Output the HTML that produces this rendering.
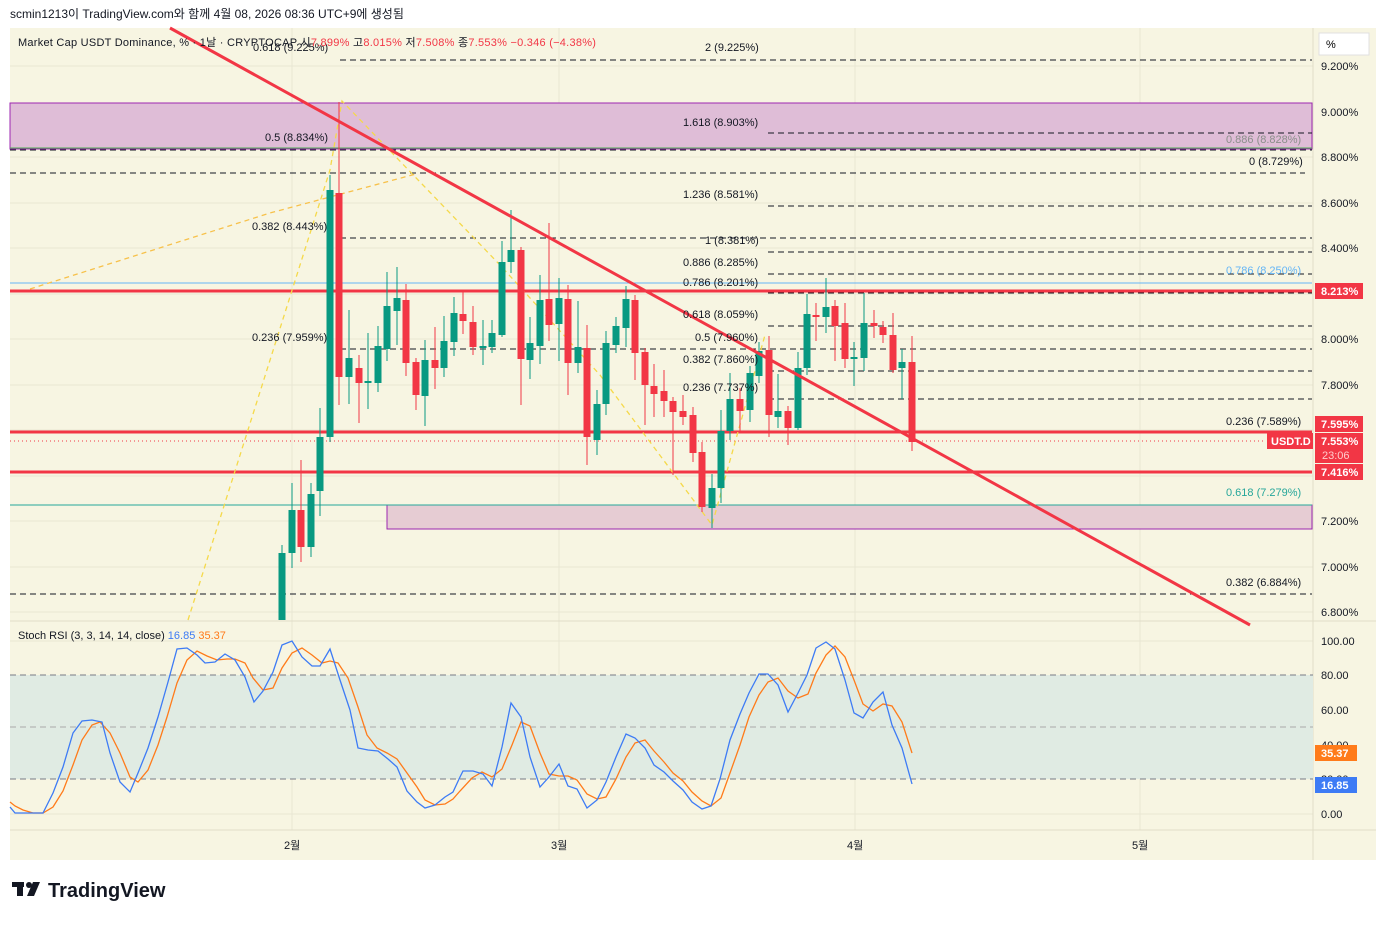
<!DOCTYPE html>
<html><head><meta charset="utf-8"><style>
body{margin:0;background:#fff;width:1385px;height:920px;overflow:hidden;font-family:"Liberation Sans","Noto Sans CJK KR",sans-serif}
svg text{font-family:"Liberation Sans","Noto Sans CJK KR",sans-serif}
</style></head><body>
<svg id="s" width="1385" height="920" xmlns="http://www.w3.org/2000/svg">
<text x="10" y="18" font-size="12" fill="#131722">scmin1213이 TradingView.com와 함께 4월 08, 2026 08:36 UTC+9에 생성됨</text>
<rect x="10" y="28" width="1366" height="832" fill="#f7f5e2"/>
<g stroke="#e8e6d3" stroke-width="1">
<line x1="10" x2="1313" y1="66" y2="66"/><line x1="10" x2="1313" y1="112" y2="112"/><line x1="10" x2="1313" y1="157" y2="157"/><line x1="10" x2="1313" y1="203" y2="203"/><line x1="10" x2="1313" y1="248" y2="248"/><line x1="10" x2="1313" y1="294" y2="294"/><line x1="10" x2="1313" y1="339" y2="339"/><line x1="10" x2="1313" y1="385" y2="385"/><line x1="10" x2="1313" y1="430" y2="430"/><line x1="10" x2="1313" y1="476" y2="476"/><line x1="10" x2="1313" y1="521" y2="521"/><line x1="10" x2="1313" y1="567" y2="567"/><line x1="10" x2="1313" y1="612" y2="612"/>
<line x1="292" x2="292" y1="28" y2="830"/><line x1="559" x2="559" y1="28" y2="830"/><line x1="855" x2="855" y1="28" y2="830"/><line x1="1140" x2="1140" y1="28" y2="830"/>
<line x1="10" x2="1313" y1="641" y2="641"/><line x1="10" x2="1313" y1="710" y2="710"/><line x1="10" x2="1313" y1="745" y2="745"/><line x1="10" x2="1313" y1="814" y2="814"/>
</g>
<line x1="1313" x2="1313" y1="28" y2="860" stroke="#e0ddc8"/>
<line x1="10" x2="1376" y1="621" y2="621" stroke="#e0ddc8"/>
<line x1="10" x2="1376" y1="830" y2="830" stroke="#e0ddc8"/>
<rect x="10" y="103" width="1302" height="46" fill="#dfbdd7" stroke="#9c27b0" stroke-width="1"/>
<rect x="387" y="505" width="925" height="24" fill="#e6ccd3" stroke="#9c27b0" stroke-width="1"/>
<g stroke="#131722" stroke-dasharray="6,4" stroke-width="1">
<line x1="340" x2="1312" y1="60" y2="60"/>
<line x1="768" x2="1312" y1="133" y2="133"/>
<line x1="10" x2="1312" y1="150" y2="150"/>
<line x1="10" x2="1305" y1="173" y2="173"/>
<line x1="768" x2="1312" y1="206" y2="206"/>
<line x1="340" x2="1312" y1="238" y2="238"/>
<line x1="768" x2="1312" y1="252" y2="252"/>
<line x1="768" x2="1312" y1="274" y2="274"/>
<line x1="768" x2="1312" y1="293" y2="293"/>
<line x1="768" x2="1312" y1="326" y2="326"/>
<line x1="340" x2="1312" y1="349" y2="349"/>
<line x1="768" x2="1312" y1="371" y2="371"/>
<line x1="768" x2="1312" y1="399" y2="399"/>
<line x1="10" x2="1312" y1="594" y2="594"/>
</g>
<line x1="10" x2="1312" y1="148" y2="148" stroke="#4caf50"/>
<line x1="10" x2="1312" y1="283" y2="283" stroke="#64b5f6"/>
<line x1="10" x2="1312" y1="505" y2="505" stroke="#26a69a"/>
<line x1="10" x2="1312" y1="291" y2="291" stroke="#f23645" stroke-width="3"/>
<line x1="10" x2="1312" y1="432" y2="432" stroke="#f23645" stroke-width="3"/>
<line x1="10" x2="1312" y1="472" y2="472" stroke="#f23645" stroke-width="3"/>
<line x1="10" x2="1266" y1="441" y2="441" stroke="#f23645" stroke-dasharray="1,3"/>
<g fill="none" stroke="#f5d94a" stroke-width="1.3" stroke-dasharray="5,4">
<polyline points="188,620 330,170 342,101 500,265 600,375 712,525 765,335"/>
</g>
<polyline points="30,289 270,213 416,174" fill="none" stroke="#f7c14a" stroke-width="1.3" stroke-dasharray="5,4"/>
<g id="candles"></g>
<line x1="170" y1="28" x2="1250" y2="625" stroke="#f23645" stroke-width="3"/>
<g font-size="11" fill="#131722">
<text x="705" y="51">2 (9.225%)</text>
<text x="253" y="51">0.618 (9.225%)</text>
<text x="683" y="126">1.618 (8.903%)</text>
<text x="265" y="141">0.5 (8.834%)</text>
<text x="1226" y="143" fill="#8a8f8a">0.886 (8.828%)</text>
<text x="1249" y="165">0 (8.729%)</text>
<text x="683" y="198">1.236 (8.581%)</text>
<text x="252" y="230">0.382 (8.443%)</text>
<text x="705" y="244">1 (8.381%)</text>
<text x="683" y="266">0.886 (8.285%)</text>
<text x="1226" y="274" fill="#64b5f6">0.786 (8.250%)</text>
<text x="683" y="286">0.786 (8.201%)</text>
<text x="683" y="318">0.618 (8.059%)</text>
<text x="252" y="341">0.236 (7.959%)</text>
<text x="695" y="341">0.5 (7.960%)</text>
<text x="683" y="363">0.382 (7.860%)</text>
<text x="683" y="391">0.236 (7.737%)</text>
<text x="1226" y="425">0.236 (7.589%)</text>
<text x="1226" y="496" fill="#26a69a">0.618 (7.279%)</text>
<text x="1226" y="586">0.382 (6.884%)</text>
</g>
<rect x="10" y="675" width="1303" height="104" fill="#e0ebe3"/>
<g stroke="#787b86" stroke-dasharray="6,4"><line x1="10" x2="1313" y1="675" y2="675"/><line x1="10" x2="1313" y1="727" y2="727" stroke="#aaa"/><line x1="10" x2="1313" y1="779" y2="779"/></g>
<polyline fill="none" stroke="#ff7b1a" stroke-width="1.3" points="10,802 15,806 23,810 33,813 43,813 53,807 63,791 73,765 82,740 92,725 100,722 110,733 120,753 130,777 138,782 148,770 158,745 167,717 177,683 187,660 197,651 207,656 217,660 227,659 235,659 245,663 253,678 263,690 273,688 282,668 292,653 302,648 312,655 322,663 330,661 338,663 348,678 358,707 367,735 377,748 387,753 397,759 407,773 417,787 425,800 435,805 445,804 453,799 460,791 472,778 482,772 492,777 502,769 512,745 521,722 530,726 540,753 549,774 559,776 568,776 577,780 587,794 597,799 606,797 616,779 626,757 635,743 645,740 654,751 664,762 673,773 683,781 692,792 702,801 711,806 721,798 730,773 740,745 749,717 759,695 768,682 778,678 788,691 798,698 808,694 816,673 826,655 835,646 845,657 854,680 863,704 873,711 883,704 892,706 902,722 912,753"/>
<polyline fill="none" stroke="#3d7bf5" stroke-width="1.3" points="10,807 15,813 43,813 53,793 63,767 73,733 82,721 92,720 102,722 110,753 120,782 130,792 138,773 148,748 158,717 168,682 177,649 187,648 197,655 205,663 215,662 225,654 235,660 245,677 254,702 263,691 273,672 282,645 292,641 302,657 312,666 320,666 330,649 340,680 350,710 358,748 368,750 378,751 388,759 397,767 407,791 417,802 425,808 435,805 445,797 453,792 460,777 463,771 473,771 483,774 492,786 502,747 511,703 521,717 530,757 540,787 549,777 559,764 568,786 577,789 587,808 597,800 606,782 616,757 626,734 635,738 645,748 654,765 664,772 673,781 683,790 692,802 702,809 711,806 720,779 730,740 740,714 749,693 759,674 768,674 778,685 788,712 798,693 807,675 816,648 826,642 835,649 845,680 854,713 863,718 873,702 883,692 892,725 902,748 912,784"/>
<text x="18" y="639" font-size="11" fill="#131722">Stoch RSI (3, 3, 14, 14, close) <tspan fill="#3d7bf5">16.85</tspan> <tspan fill="#ff7b1a">35.37</tspan></text>
<text x="18" y="46" font-size="11" fill="#131722" letter-spacing="0.25">Market Cap USDT Dominance, % · 1날 · CRYPTOCAP  시<tspan fill="#f23645">7.899%</tspan>  고<tspan fill="#f23645">8.015%</tspan>  저<tspan fill="#f23645">7.508%</tspan>  종<tspan fill="#f23645">7.553%</tspan>  <tspan fill="#f23645">−0.346 (−4.38%)</tspan></text>
<rect x="1319" y="33" width="50" height="22" fill="#fff" stroke="#e0e0e0"/><text x="1326" y="48" font-size="11">%</text>
<g font-size="11" fill="#131722">
<text x="1321" y="70">9.200%</text><text x="1321" y="116">9.000%</text><text x="1321" y="161">8.800%</text><text x="1321" y="207">8.600%</text><text x="1321" y="252">8.400%</text><text x="1321" y="343">8.000%</text><text x="1321" y="389">7.800%</text><text x="1321" y="525">7.200%</text><text x="1321" y="571">7.000%</text><text x="1321" y="616">6.800%</text>
<text x="1321" y="645">100.00</text><text x="1321" y="679">80.00</text><text x="1321" y="714">60.00</text><text x="1321" y="749">40.00</text><text x="1321" y="783">20.00</text><text x="1321" y="818">0.00</text>
<text x="284" y="849">2월</text><text x="551" y="849">3월</text><text x="847" y="849">4월</text><text x="1132" y="849">5월</text>
</g>
<g font-size="11" font-weight="bold" fill="#fff">
<rect x="1315" y="283" width="48" height="16" fill="#f23645"/><text x="1321" y="295">8.213%</text>
<rect x="1315" y="416" width="48" height="16" fill="#f23645"/><text x="1321" y="428">7.595%</text>
<rect x="1267" y="433" width="46" height="16" fill="#f23645"/><text x="1271" y="445">USDT.D</text>
<rect x="1315" y="433" width="48" height="30" fill="#f23645"/><text x="1321" y="445">7.553%</text><text x="1322" y="459" font-weight="normal" fill="#fcc">23:06</text>
<rect x="1315" y="464" width="48" height="16" fill="#f23645"/><text x="1321" y="476">7.416%</text>
<rect x="1315" y="745" width="42" height="16" fill="#ff7b1a"/><text x="1321" y="757">35.37</text>
<rect x="1315" y="777" width="42" height="16" fill="#3d7bf5"/><text x="1321" y="789">16.85</text>
</g>
<g fill="#131722"><rect x="12" y="882" width="12" height="5"/><rect x="17" y="882" width="6" height="14"/><circle cx="29" cy="885" r="3"/><polygon points="33,882 40,882 34,896 27,896"/></g>
<text x="48" y="897" font-size="20" font-weight="bold" fill="#131722">TradingView</text>
</svg>
<script>
var C=[[282,620,553,545,625],[292,553,510,483,568],[301,510,547,460,562],[311,547,494,483,557],[320,491,437,408,516],[330,437,190,175,442],[339,193,377,102,405],[349,377,358,310,404],[359,368,383,355,423],[368,383,381,333,409],[378,383,346,326,392],[387,349,306,272,361],[397,311,298,267,345],[406,300,363,284,376],[416,362,395,358,410],[425,396,360,340,426],[435,360,368,327,389],[444,368,341,316,377],[454,342,313,297,356],[463,314,321,290,334],[473,322,347,306,355],[483,347,346,320,365],[492,347,333,320,353],[502,335,262,241,337],[511,262,250,210,273],[521,250,359,247,405],[530,360,343,317,379],[540,346,300,275,364],[549,299,325,223,341],[559,324,298,278,361],[568,299,363,285,395],[578,363,347,301,373],[587,348,437,325,465],[597,440,404,390,455],[606,404,343,331,415],[616,345,326,317,353],[626,328,299,286,347],[635,300,353,295,380],[645,352,385,348,425],[654,386,394,364,417],[664,391,401,370,417],[673,401,412,397,475],[683,411,417,395,425],[693,415,453,407,462],[702,452,507,442,512],[712,508,488,474,528],[721,488,431,410,503],[730,431,399,373,440],[740,399,411,388,432],[750,410,373,366,422],[759,376,351,342,383],[769,350,415,336,437],[778,417,411,374,428],[788,411,428,406,445],[798,428,368,352,430],[807,368,314,294,375],[816,315,317,303,341],[826,317,307,278,333],[835,306,326,300,361],[845,323,359,303,368],[854,359,357,342,386],[864,358,323,293,371],[874,323,326,310,338],[883,327,335,321,343],[893,335,370,313,373],[902,368,362,349,399],[912,362,442,336,451]];
var g=document.getElementById('candles'),h='';
C.forEach(function(c){var x=c[0],o=c[1],cl=c[2],up=cl<o,col=up?'#089981':'#f23645';var t=Math.min(o,cl),b=Math.max(o,cl);if(b-t<2)b=t+2;
h+='<line x1="'+x+'" x2="'+x+'" y1="'+c[3]+'" y2="'+Math.min(c[4],620)+'" stroke="'+col+'"/>';
h+='<rect x="'+(x-3.5)+'" y="'+t+'" width="7" height="'+(Math.min(b,620)-t)+'" fill="'+col+'"/>';});
g.innerHTML=h;
</script>
</body></html>
